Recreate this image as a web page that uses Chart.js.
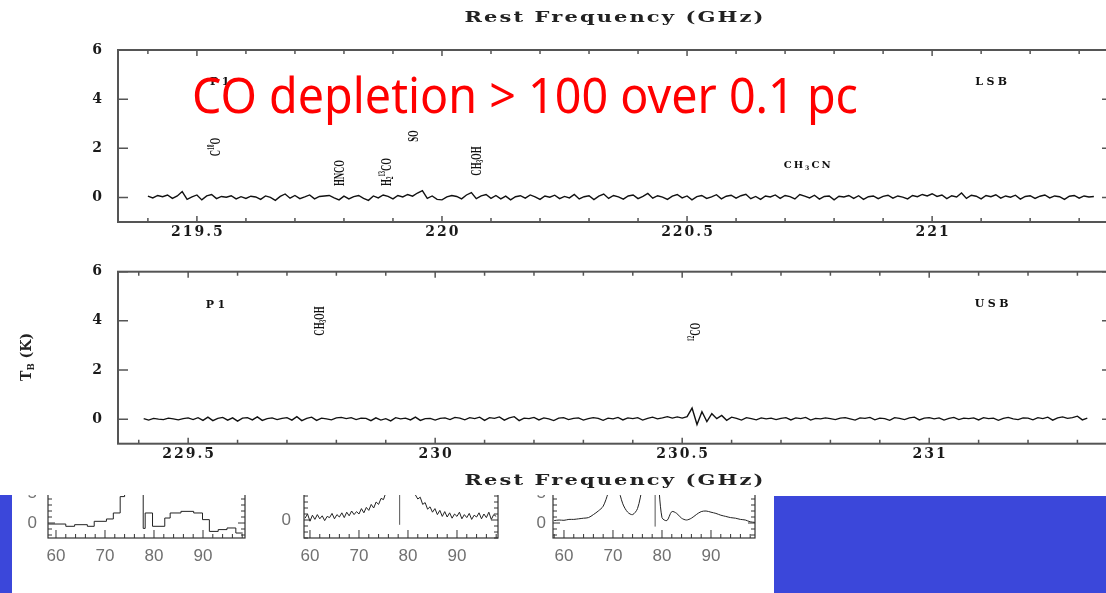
<!DOCTYPE html>
<html>
<head>
<meta charset="utf-8">
<script src="https://cdn.jsdelivr.net/npm/chart.js@4.4.1/dist/chart.umd.min.js"></script>
<style>
html,body{margin:0;padding:0;background:#fff;overflow:hidden;}
#page{position:relative;width:1106px;height:593px;overflow:hidden;background:#fff;}
.wrap{position:absolute;}
.wrap canvas{display:block;}
#labels{position:absolute;left:0;top:0;width:1106px;height:593px;pointer-events:none;}
.lbl{position:absolute;white-space:nowrap;line-height:1;}
.mol{font-family:"Liberation Serif",serif;font-weight:bold;font-size:15px;color:#111;}
.tag{font-family:"DejaVu Serif",serif;font-weight:bold;font-size:11px;letter-spacing:3.5px;color:#111;}
.tagS{font-family:"DejaVu Serif",serif;font-weight:bold;font-size:10px;letter-spacing:2px;color:#111;}
.lbl sup{font-size:0.62em;vertical-align:0.55em;line-height:0;}
.lbl sub{font-size:0.62em;vertical-align:-0.3em;line-height:0;}
.axt{font-family:"DejaVu Serif",serif;font-weight:bold;font-size:15px;letter-spacing:1.5px;color:#222;}
.ylab{font-family:"DejaVu Serif",serif;font-weight:bold;font-size:14px;color:#222;}
#note{position:absolute;left:192px;top:69px;font-family:"Noto Sans",sans-serif;font-size:50px;line-height:50px;color:#ff0000;white-space:nowrap;transform-origin:0 0;}
#strip{position:absolute;left:0;top:495px;width:1106px;height:98px;overflow:hidden;background:#fff;}
.blue{position:absolute;background:#3b47da;}
</style>
</head>
<body>
<div id="page">
  <div class="wrap" id="wTop"><canvas id="cTop"></canvas></div>
  <div class="wrap" id="wBot"><canvas id="cBot"></canvas></div>
  <div id="strip">
    <div class="blue" style="left:0;top:0;width:12px;height:98px;"></div>
    <div class="blue" style="left:774px;top:1px;width:332px;height:97px;"></div>
    <div class="wrap" id="wP1"><canvas id="cP1"></canvas></div>
    <div class="wrap" id="wP2"><canvas id="cP2"></canvas></div>
    <div class="wrap" id="wP3"><canvas id="cP3"></canvas></div>
  </div>
  <div id="labels"></div>
  <div id="note">CO depletion &gt; 100 over 0.1 pc</div>
</div>
<script>
// ---------------- data ----------------
const channelGHz = 0.01;
const lsbStartGHz = 219.40;
const usbStartGHz = 229.41;

const lsbTemps = [
 0.05,-0.02,0.08,0.03,0.10,-0.04,0.06,0.24,-0.08,0.02,
 0.10,-0.10,0.06,0.12,-0.05,0.04,0.01,0.07,-0.06,0.03,
 -0.04,0.05,0.02,-0.08,0.06,0.00,-0.12,0.04,0.14,-0.03,
 0.08,-0.05,0.02,0.10,-0.06,0.04,0.06,0.08,-0.02,-0.10,
 0.05,-0.06,0.03,0.08,-0.04,-0.12,0.06,-0.02,0.10,0.04,
 -0.06,0.08,0.02,0.12,0.05,0.18,0.28,-0.04,0.06,-0.08,
 -0.10,0.02,0.08,0.04,-0.06,0.10,0.20,-0.05,0.06,0.12,
 -0.04,0.08,-0.06,0.05,-0.10,0.03,0.07,-0.03,0.10,0.02,
 -0.08,0.06,0.01,0.09,-0.05,0.04,-0.02,0.12,-0.06,0.03,
 0.07,-0.09,0.05,0.14,-0.04,0.08,0.02,-0.07,0.06,0.10,
 -0.05,0.04,0.16,-0.03,0.07,0.01,-0.08,0.05,0.12,-0.02,
 0.06,-0.10,0.03,0.08,-0.04,0.02,0.11,-0.06,0.05,0.09,
 -0.03,0.07,0.13,-0.05,0.04,-0.08,0.06,0.02,0.10,-0.04,
 0.08,0.03,-0.06,0.12,0.05,-0.02,0.09,-0.07,0.04,0.06,
 -0.10,0.05,0.02,0.08,-0.04,0.07,-0.08,0.03,0.06,-0.05,
 0.04,0.09,-0.03,0.06,0.01,-0.06,0.08,0.03,0.12,0.06,
 0.15,0.04,0.10,-0.05,0.07,0.02,0.18,-0.04,0.09,0.05,
 -0.06,0.08,0.03,0.11,-0.03,0.06,0.01,0.09,-0.07,0.04,
 0.07,-0.04,0.05,0.10,-0.02,0.06,0.03,-0.08,0.05,0.08,
 -0.03,0.06,0.02,0.04
];

const usbTemps = [
 0.02,-0.04,0.03,0.00,-0.02,0.04,0.01,-0.03,0.02,
 0.05,-0.02,0.06,-0.05,0.08,-0.06,0.03,0.07,-0.04,0.05,
 -0.08,0.04,0.06,-0.03,0.09,-0.05,0.02,0.05,-0.02,0.03,
 0.06,-0.04,0.10,-0.06,0.03,0.08,-0.05,0.04,0.01,-0.03,
 0.05,0.07,0.02,0.06,-0.02,0.04,0.03,-0.06,0.05,-0.04,
 0.02,-0.07,0.06,0.01,0.04,-0.03,0.08,-0.05,0.02,0.03,
 -0.04,0.03,0.05,-0.02,0.07,0.04,-0.03,0.06,0.02,0.08,
 -0.05,0.06,0.03,0.09,-0.04,0.05,0.10,-0.06,0.04,0.02,
 0.07,-0.03,0.05,0.01,-0.06,0.04,0.06,-0.02,0.03,0.05,
 -0.04,0.02,0.06,0.03,-0.05,0.04,0.01,0.07,-0.03,0.05,
 0.02,0.06,-0.04,0.03,0.08,0.01,0.05,0.10,0.04,0.09,
 0.04,0.10,0.45,-0.22,0.30,-0.10,0.22,0.02,0.15,-0.05,
 0.08,0.03,-0.04,0.06,0.02,-0.03,0.05,0.01,0.04,-0.02,
 0.03,0.06,-0.03,0.05,0.02,0.07,-0.04,0.03,0.01,0.05,
 0.02,-0.02,0.04,0.06,0.01,-0.04,0.05,0.03,0.07,-0.03,
 0.04,0.02,-0.05,0.06,0.03,-0.02,0.05,0.08,-0.03,0.04,
 0.06,0.01,0.05,-0.04,0.03,0.07,-0.02,0.04,0.02,0.05,
 -0.03,0.06,0.02,0.04,-0.05,0.03,0.07,0.01,-0.02,0.05,
 0.04,-0.03,0.06,0.02,0.08,-0.04,0.05,0.09,0.03,0.06,
 0.12,-0.03,0.04
];

// line identifications: [label, rest frequency (GHz), height (K)]
const lsbLines = [
 ['C<sup>18</sup>O', 219.537, 2.05],
 ['HNCO', 219.790, 0.99],
 ['H<sub>2</sub><sup>13</sup>CO', 219.886, 1.05],
 ['SO', 219.940, 2.48],
 ['CH<sub>3</sub>OH', 220.070, 1.50]
];
const lsbSmallTags = [['CH<sub>3</sub>CN', 220.747, 1.30]];
const lsbTags = [['P1', 219.550, 4.73], ['LSB', 221.124, 4.73]];
const usbLines = [
 ['CH<sub>3</sub>OH', 229.765, 3.99],
 ['<sup>12</sup>CO', 230.526, 3.55]
];
const usbTags = [['P1', 229.559, 4.67], ['USB', 231.130, 4.72]];

// inset panels (velocity-like axis)
const p1Edges = [58.4,62.0,63.8,66.4,67.8,70.3,71.7,73.1,74.0,77.8,78.2,79.7,82.2,83.3,85.5,88.1,89.9,91.3,93.1,94.9,96.7,98.1];
const p1Vals  = [-0.17,-0.55,-0.28,-0.55,0.28,0.67,1.67,4.4,12,-0.9,1.67,-0.55,0.83,1.67,1.94,1.67,0.56,-1.4,-1.1,-0.83,-1.67,-1.67];
const p2Start = 59, p2Step = 0.5;
const p2Vals = [0.3,1.0,-0.2,0.8,0.1,0.9,0.2,0.7,-0.1,0.6,
 0.4,1.1,0.2,0.9,0.5,1.2,0.4,1.3,0.7,1.5,
 0.9,1.4,1.0,1.9,1.2,2.1,1.6,2.6,2.0,3.0,
 2.6,3.6,3.4,4.6,5.5,9,12,12,12,12,
 12,12,12,8,5.0,4.2,3.5,3.8,2.6,2.9,
 1.8,2.2,1.3,1.9,0.9,1.6,0.6,1.4,0.5,1.2,
 0.3,1.0,0.6,1.3,0.2,0.9,0.4,1.1,0.1,0.8,
 0.5,1.2,0.2,1.0,0.4,1.3,0.1,0.9,0.6];
const p3Start = 58, p3Step = 1;
const p3Vals = [0.4,0.5,0.45,0.6,0.6,0.7,0.8,0.9,1.4,2.0,2.8,5.0,8,6,3.2,1.8,1.4,2.4,6,10,12,9,0.9,0.4,1.9,1.6,0.8,0.5,0.8,1.4,1.9,2.0,1.8,1.6,1.3,1.1,0.9,0.8,0.6,0.5,0.2,0.1];
const p2Marker = 78.3, p3Marker = 78.6;

// ---------------- helpers ----------------
const isMajor = (v, s) => Math.abs(v / s - Math.round(v / s)) < 1e-6;

const frameTicks = {
  id: 'frameTicks',
  beforeDraw(chart, args, o) { chart.ctx.letterSpacing = o.spacing || '0px'; },
  afterDatasetsDraw(chart, args, o) {
    if (!o.color) return;
    const {ctx, chartArea: a, scales: {x, y}} = chart;
    ctx.save();
    ctx.letterSpacing = '0px';
    ctx.strokeStyle = o.color;
    ctx.lineWidth = o.width;
    ctx.strokeRect(a.left, a.top, a.right - a.left, a.bottom - a.top);
    ctx.lineWidth = o.tickWidth;
    ctx.beginPath();
    x.ticks.forEach(t => {
      const p = x.getPixelForValue(t.value);
      const L = isMajor(t.value, o.xMajorStep) ? o.xMajorLen : o.xMinorLen;
      ctx.moveTo(p, a.bottom); ctx.lineTo(p, a.bottom - L);
      ctx.moveTo(p, a.top); ctx.lineTo(p, a.top + L);
    });
    y.ticks.forEach(t => {
      const p = y.getPixelForValue(t.value);
      const L = isMajor(t.value, o.yMajorStep) ? o.yMajorLen : o.yMinorLen;
      ctx.moveTo(a.left, p); ctx.lineTo(a.left + L, p);
      ctx.moveTo(a.right, p); ctx.lineTo(a.right - L, p);
    });
    ctx.stroke();
    ctx.restore();
  }
};
Chart.register(frameTicks);

function setup(canvasId, wrapId, left, top, w, h) {
  const c = document.getElementById(canvasId);
  const wr = document.getElementById(wrapId);
  wr.style.left = left + 'px'; wr.style.top = top + 'px';
  wr.style.width = w + 'px'; wr.style.height = h + 'px';
  c.width = w; c.height = h;
  c.style.width = w + 'px'; c.style.height = h + 'px';
  return c;
}

const serifTick = {family: 'DejaVu Serif', weight: 'bold', size: 14};
const noTicks = {display: false, drawTicks: false};

function makeSpectrum(canvas, start, temps, xMin, xMax, padTop, xAxisH) {
  const pts = temps.map((t, i) => ({x: +(start + i * channelGHz).toFixed(3), y: t}));
  return new Chart(canvas, {
    type: 'line',
    data: {datasets: [{data: pts, borderColor: '#111', borderWidth: 1.4, pointRadius: 0, tension: 0, fill: false}]},
    options: {
      responsive: false, animation: false, devicePixelRatio: 1,
      layout: {padding: {top: padTop, right: 13, left: 0, bottom: 0}},
      plugins: {
        legend: {display: false}, tooltip: {enabled: false},
        frameTicks: {color: '#555', width: 2, tickWidth: 1.5, spacing: '2px',
          xMajorStep: 0.5, xMajorLen: 6, xMinorLen: 4, yMajorStep: 2, yMajorLen: 10, yMinorLen: 10}
      },
      scales: {
        x: {type: 'linear', min: xMin, max: xMax,
          grid: noTicks, border: {display: false},
          ticks: {stepSize: 0.1, includeBounds: false, autoSkip: false, maxRotation: 0, minRotation: 0,
            padding: 2, labelOffset: 1, color: '#1a1a1a', font: serifTick,
            callback: v => isMajor(v, 0.5) ? String(+v.toFixed(1)) : ''},
          afterFit: s => { s.height = xAxisH; s.paddingLeft = 0; s.paddingRight = 0; }},
        y: {min: -1, max: 6,
          grid: noTicks, border: {display: false},
          ticks: {stepSize: 2, includeBounds: false, padding: 14, color: '#1a1a1a', font: serifTick},
          afterFit: s => { s.width = 118; s.paddingTop = 0; s.paddingBottom = 0; }}
      }
    }
  });
}

function makeInset(canvas, datasets, xMin, xMax, yMin, yMax, yAxisW, yPad) {
  return new Chart(canvas, {
    type: 'line',
    data: {datasets},
    options: {
      responsive: false, animation: false, devicePixelRatio: 1,
      layout: {padding: {top: 0, right: 2, left: 0, bottom: 0}},
      plugins: {
        legend: {display: false}, tooltip: {enabled: false},
        frameTicks: {color: '#333', width: 1.2, tickWidth: 1, spacing: '0px',
          xMajorStep: 10, xMajorLen: 8, xMinorLen: 4, yMajorStep: 5, yMajorLen: 7, yMinorLen: 4}
      },
      scales: {
        x: {type: 'linear', min: xMin, max: xMax,
          grid: noTicks, border: {display: false},
          ticks: {stepSize: 2, includeBounds: false, autoSkip: false, maxRotation: 0, minRotation: 0,
            padding: 8, color: '#707070', font: {family: 'Liberation Sans', size: 17},
            callback: v => isMajor(v, 10) ? String(Math.round(v)) : ''},
          afterFit: s => { s.height = 40; s.paddingLeft = 0; s.paddingRight = 0; }},
        y: {min: yMin, max: yMax,
          grid: noTicks, border: {display: false},
          ticks: {stepSize: 1, includeBounds: false, autoSkip: false, padding: yPad, color: '#707070',
            font: {family: 'Liberation Sans', size: 17},
            callback: v => isMajor(v, 5) ? String(Math.round(v)) : ''},
          afterFit: s => { s.width = yAxisW; s.paddingTop = 0; s.paddingBottom = 0; }}
      }
    }
  });
}

// ---------------- main spectra ----------------
const topChart = makeSpectrum(setup('cTop', 'wTop', 0, 0, 1125, 250), lsbStartGHz, lsbTemps, 219.339, 221.367, 50, 28);
const botChart = makeSpectrum(setup('cBot', 'wBot', 0, 250, 1125, 250), usbStartGHz, usbTemps, 229.358, 231.370, 21.7, 56.3);

// ---------------- insets ----------------
const lineStyle = {borderColor: '#222', borderWidth: 1, pointRadius: 0, fill: false};
const markerStyle = {borderColor: '#555', borderWidth: 1, pointRadius: 0, fill: false};
makeInset(setup('cP1', 'wP1', 8, 463 - 495, 239, 115), [
  Object.assign({data: p1Edges.map((e, i) => ({x: e, y: p1Vals[i]})), stepped: 'before'}, lineStyle)
], 58.37, 98.57, -2.5, 10, 40, 11);
makeInset(setup('cP2', 'wP2', 264, 460 - 495, 236, 118), [
  Object.assign({data: p2Vals.map((v, i) => ({x: p2Start + i * p2Step, y: v})), tension: 0}, lineStyle),
  Object.assign({data: [{x: p2Marker, y: -0.8}, {x: p2Marker, y: 12}]}, markerStyle)
], 58.78, 98.37, -3, 10, 40, 13);
makeInset(setup('cP3', 'wP3', 513, 463 - 495, 244, 115), [
  Object.assign({data: p3Vals.map((v, i) => ({x: p3Start + i * p3Step, y: v})), tension: 0.3}, lineStyle),
  Object.assign({data: [{x: p3Marker, y: -0.6}, {x: p3Marker, y: 12}]}, markerStyle)
], 57.76, 98.98, -2.5, 10, 40, 7);

// ---------------- text overlays ----------------
const box = document.getElementById('labels');
function addLabel(html, cls, cx, cy, transform) {
  const d = document.createElement('div');
  d.className = 'lbl ' + cls;
  d.innerHTML = html;
  d.style.left = cx + 'px';
  d.style.top = cy + 'px';
  d.style.transform = transform;
  box.appendChild(d);
  return d;
}
function placeLines(chart, wrapTop, items, cls, transform) {
  items.forEach(([html, f, t]) => {
    addLabel(html, cls, chart.scales.x.getPixelForValue(f), wrapTop + chart.scales.y.getPixelForValue(t), transform);
  });
}
const ROT = 'translate(-50%,-50%) rotate(-90deg) scaleX(0.58)';
const FLAT = 'translate(-50%,-50%)';
placeLines(topChart, 0, lsbLines, 'mol', ROT);
placeLines(topChart, 0, lsbTags, 'tag', FLAT);
placeLines(topChart, 0, lsbSmallTags, 'tagS', FLAT);
placeLines(botChart, 250, usbLines, 'mol', ROT);
placeLines(botChart, 250, usbTags, 'tag', FLAT);

const ca = topChart.chartArea, cb = botChart.chartArea;
addLabel('Rest Frequency (GHz)', 'axt', (ca.left + ca.right) / 2, 17, 'translate(-50%,-50%) scaleX(1.4)');
addLabel('Rest Frequency (GHz)', 'axt', (cb.left + cb.right) / 2, 480, 'translate(-50%,-50%) scaleX(1.4)');
addLabel('T<sub>B</sub> (K)', 'ylab', 26, 357, 'translate(-50%,-50%) rotate(-90deg)');

const note = document.getElementById('note');
const nw = note.getBoundingClientRect().width;
note.style.transform = 'scaleX(' + (666 / nw) + ')';
</script>
</body>
</html>
